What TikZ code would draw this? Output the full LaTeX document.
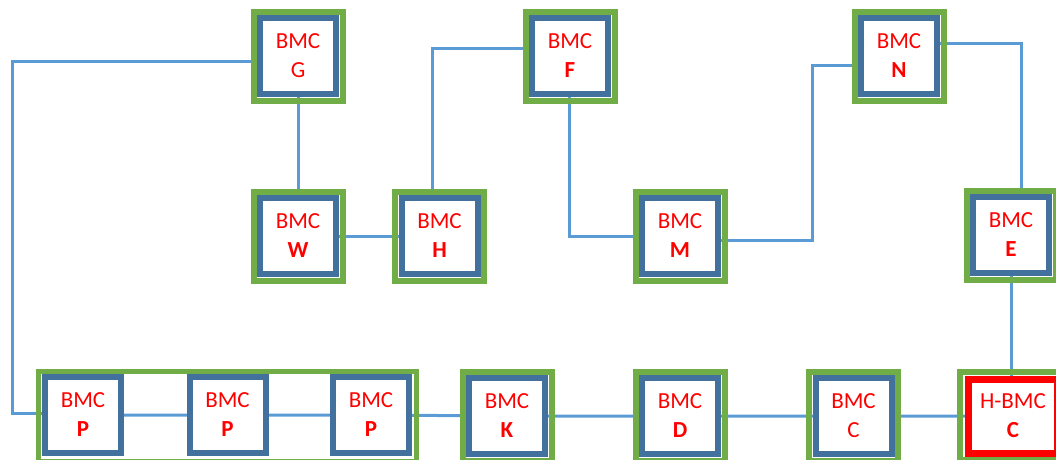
\documentclass[tikz,border=0pt]{standalone}
\usepackage{fontspec}
\setmainfont{Carlito}
\usetikzlibrary{backgrounds}
\definecolor{gfr}{HTML}{70AD47}
\definecolor{bbx}{HTML}{41719C}
\definecolor{lnk}{HTML}{5B9BD5}
\definecolor{rtx}{HTML}{FF0000}
\newcommand\bmcnode[3]{%
  \node[gframe] (#1f) at (#2) {};
  \node[bmc] (#1) at (#2) {#3};}
\begin{document}
\begin{tikzpicture}[x=1pt,y=-1pt,
  bmc/.style={draw=bbx, line width=6pt, fill=white, minimum size=76pt, inner sep=0pt,
    align=center, text=rtx, font=\fontsize{23}{29}\selectfont},
  gframe/.style={draw=gfr, line width=6pt, minimum size=89pt, inner sep=0pt},
  link/.style={draw=lnk, line width=3pt}]
\useasboundingbox (0,0) rectangle (1056,459);

% top row
\bmcnode{G}{298,56}{BMC\\G}
\bmcnode{F}{570,56}{BMC\\\textbf{F}}
\bmcnode{N}{899,56}{BMC\\\textbf{N}}
% middle row
\bmcnode{W}{298,236}{BMC\\\textbf{W}}
\bmcnode{H}{439.5,236}{BMC\\\textbf{H}}
\bmcnode{M}{680,236}{BMC\\\textbf{M}}
\bmcnode{E}{1011,235}{BMC\\\textbf{E}}
% bottom row
\node[draw=gfr, line width=5pt, minimum width=378pt, minimum height=90pt, inner sep=0pt]
  (Pg) at (227.5,416.5) {};
\node[bmc] (P1) at (83,415) {BMC\\\textbf{P}};
\node[bmc] (P2) at (227.5,415) {BMC\\\textbf{P}};
\node[bmc] (P3) at (371,415) {BMC\\\textbf{P}};
\bmcnode{K}{507,416}{BMC\\\textbf{K}}
\bmcnode{D}{680,416}{BMC\\\textbf{D}}
\bmcnode{C}{853.5,416}{BMC\\C}
\node[gframe, minimum width=106pt, minimum height=88pt] (HBf) at (1013,416) {};
\node[bmc, draw=rtx, line width=7pt, minimum width=89pt, minimum height=74pt]
  (HB) at (1013,416) {H-BMC\\\textbf{C}};

\coordinate (lft) at (12,300);
\coordinate (mn) at (812,150);

\begin{pgfonlayer}{background}
\draw[link] ([yshift=-5pt]G.center) -| (lft) |- ([yshift=2pt]P1.center);
\draw[link] (G.center) -- (W.center);
\draw[link] (W.center) -- (H.center);
\draw[link] ([xshift=-7pt]H.center) |- ([yshift=8pt]F.center);
\draw[link] ([xshift=-1pt]F.center) |- (M.center);
\draw[link] ([yshift=-4pt]M.center) -| (mn) |- ([yshift=-9pt]N.center);
\draw[link] ([yshift=13pt]N.center) -| ([xshift=10pt]E.center);
\draw[link] (E.center) -- (E.center |- HB.center);
\draw[link] (P1.center) -- (P2.center) -- (P3.center) -- (K.center) -- (D.center)
  -- (C.center) -- (HB.center);
\end{pgfonlayer}
\end{tikzpicture}
\end{document}
